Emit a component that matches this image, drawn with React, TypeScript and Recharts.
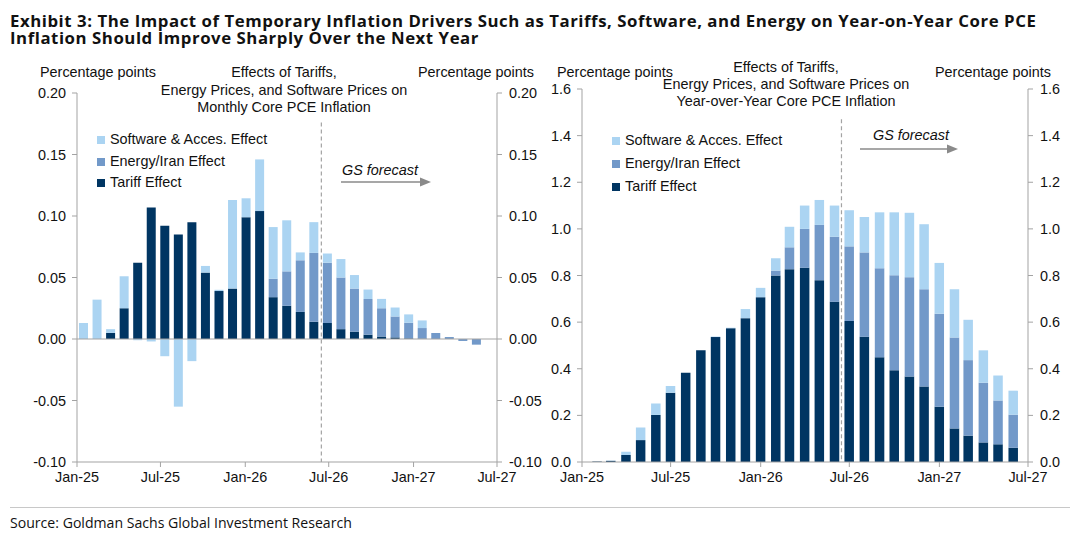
import React from 'react';
import { BarChart, Bar, XAxis, YAxis, ReferenceLine } from 'recharts';

// ---------- data ----------
const MONTHS = [
  'Jan-25', 'Feb-25', 'Mar-25', 'Apr-25', 'May-25', 'Jun-25', 'Jul-25', 'Aug-25', 'Sep-25', 'Oct-25', 'Nov-25', 'Dec-25',
  'Jan-26', 'Feb-26', 'Mar-26', 'Apr-26', 'May-26', 'Jun-26', 'Jul-26', 'Aug-26', 'Sep-26', 'Oct-26', 'Nov-26', 'Dec-26',
  'Jan-27', 'Feb-27', 'Mar-27', 'Apr-27', 'May-27', 'Jun-27', 'Jul-27',
];
const TICK_LABELS = ['Jan-25', 'Jul-25', 'Jan-26', 'Jul-26', 'Jan-27', 'Jul-27'];

// Monthly core PCE effects (left panel), Jan-25 .. Jul-27
const monthlyTariff = [
  0, 0, 0.005, 0.025, 0.062, 0.107, 0.092, 0.085, 0.095, 0.054, 0.039, 0.041,
  0.099, 0.104, 0.034, 0.027, 0.022, 0.014, 0.013, 0.008, 0.006, 0.0035, 0.002, 0.0013,
  0.0005, 0.0003, 0, 0, 0, 0, 0,
];
const monthlyEnergy = [
  0, 0, 0, 0, 0, 0, 0, 0, 0, 0, 0, 0,
  0, 0, 0.015, 0.028, 0.042, 0.056, 0.049, 0.042, 0.035, 0.029, 0.023, 0.017,
  0.0127, 0.0086, 0.0049, 0.0016, -0.0016, -0.0046, 0,
];
const monthlySoftware = [
  0.013, 0.032, 0.003, 0.026, -0.001, -0.002, -0.014, -0.055, -0.018, 0.0054, 0.001, 0.072,
  0.0154, 0.042, 0.042, 0.0415, 0.0064, 0.025, 0.0075, 0.015, 0.011, 0.0077, 0.0076, 0.0073,
  0.0068, 0.0062, 0, 0, 0, 0, 0,
];

// Year-over-year core PCE effects (right panel), Jan-25 .. Jun-27
const yoyTariff = [
  0, 0.002, 0.005, 0.03, 0.094, 0.202, 0.297, 0.383, 0.479, 0.536, 0.574, 0.617,
  0.707, 0.8, 0.827, 0.833, 0.78, 0.687, 0.605, 0.537, 0.449, 0.394, 0.367, 0.324,
  0.237, 0.144, 0.113, 0.084, 0.076, 0.061,
];
const yoyEnergy = [
  0, 0, 0, 0, 0, 0, 0, 0, 0, 0, 0, 0,
  0, 0.021, 0.094, 0.167, 0.237, 0.279, 0.32, 0.362, 0.382, 0.407, 0.426, 0.417,
  0.399, 0.39, 0.324, 0.256, 0.188, 0.142,
];
const yoySoftware = [
  0, 0, 0.001, 0.014, 0.054, 0.049, 0.029, 0, 0, 0.002, 0.002, 0.039,
  0.04, 0.053, 0.088, 0.1, 0.107, 0.134, 0.155, 0.152, 0.24, 0.27, 0.276, 0.279,
  0.218, 0.207, 0.173, 0.139, 0.107, 0.103,
];

const LEFT_TICKS = [-0.1, -0.05, 0, 0.05, 0.1, 0.15, 0.2];
const RIGHT_TICKS = [0, 0.2, 0.4, 0.6, 0.8, 1.0, 1.2, 1.4, 1.6];
const FORECAST_START = 'Jun-26';
const FORECAST_OFFSET_DAYS = 14;

// ---------- helpers ----------
const MON = ['Jan', 'Feb', 'Mar', 'Apr', 'May', 'Jun', 'Jul', 'Aug', 'Sep', 'Oct', 'Nov', 'Dec'];
const dayOf = (label: string) => {
  const [m, y] = label.split('-');
  const t = Date.UTC(2000 + Number(y), MON.indexOf(m), 1) - Date.UTC(2025, 0, 1);
  return Math.round(t / 86400000);
};
const tickDays = TICK_LABELS.map(dayOf);
const dateDomain: [number, number] = [0, dayOf('Jul-27')];
const forecastDay = dayOf(FORECAST_START) + FORECAST_OFFSET_DAYS;
const labelForDay = (v: number) => TICK_LABELS[tickDays.indexOf(v)] ?? '';
// left panel: one equal-width slot per month across the date span
const slotWidth = dateDomain[1] / MONTHS.length;

const leftRows = MONTHS.map((m, i) => ({
  month: m,
  slot: (i + 0.5) * slotWidth,
  tariff: monthlyTariff[i],
  energy: monthlyEnergy[i],
  software: monthlySoftware[i],
}));
const rightRows = MONTHS.slice(0, yoyTariff.length).map((m, i) => ({
  month: m,
  day: dayOf(m),
  tariff: yoyTariff[i],
  energy: yoyEnergy[i],
  software: yoySoftware[i],
}));

// ---------- styles ----------
const C_TARIFF = '#003562';
const C_ENERGY = '#7299c9';
const C_SOFT = '#abd4f2';
const AXIS = '#a3a3a3';
const FONT = '"Liberation Sans", Arial, sans-serif';
const TFONT = '"Open Sans", "Noto Sans", sans-serif';
const FS = 14.4;
const tickStyle = { fill: '#111', fontSize: FS, fontFamily: FONT };

const abs = (left: number, top: number, extra: React.CSSProperties = {}): React.CSSProperties => ({
  position: 'absolute', left, top, whiteSpace: 'nowrap', fontFamily: FONT, fontSize: FS,
  color: '#111', lineHeight: '17px', ...extra,
});

const titleStyle = (top: number): React.CSSProperties => ({
  position: 'absolute', left: 10, top, fontFamily: TFONT, fontWeight: 700, fontSize: 16.8,
  letterSpacing: 0.55, lineHeight: '17px', color: '#111', whiteSpace: 'nowrap',
});

const LegendBox = ({ left, top, gap }: { left: number; top: number; gap: number }) => {
  const items = [
    { c: C_SOFT, t: 'Software & Acces. Effect' },
    { c: C_ENERGY, t: 'Energy/Iran Effect' },
    { c: C_TARIFF, t: 'Tariff Effect' },
  ];
  return (
    <>
      {items.map((it, i) => (
        <div key={it.t} style={abs(left, top + i * gap)}>
          <span style={{ display: 'inline-block', width: 8, height: 8, background: it.c, marginRight: 5, verticalAlign: 0 }} />
          {it.t}
        </div>
      ))}
    </>
  );
};

export default function App() {
  return (
    <div style={{ position: 'absolute', left: 0, top: 0, width: 1080, height: 535, background: '#fff', overflow: 'hidden' }}>
      {/* Title */}
      <div style={titleStyle(12)}>
        Exhibit 3: The Impact of Temporary Inflation Drivers Such as Tariffs, Software, and Energy on Year-on-Year Core PCE
      </div>
      <div style={titleStyle(29)}>Inflation Should Improve Sharply Over the Next Year</div>

      {/* Left chart */}
      <div style={{ position: 'absolute', left: 0, top: 0 }}>
        <BarChart width={560} height={535} data={leftRows} margin={{ top: 93, right: 0, bottom: 43, left: 0 }} stackOffset="sign" barSize={9}>
          <XAxis xAxisId="date" dataKey="slot" type="number" domain={dateDomain} allowDataOverflow ticks={tickDays} tickFormatter={labelForDay}
            height={30} stroke={AXIS} tick={tickStyle} tickSize={5} tickMargin={5} interval={0} />
          <YAxis yAxisId="l" domain={[-0.1, 0.2]} ticks={LEFT_TICKS} allowDataOverflow width={77} stroke={AXIS} tick={tickStyle}
            tickSize={5} tickMargin={6} tickFormatter={(v: number) => v.toFixed(2)} interval={0} />
          <YAxis yAxisId="r" orientation="right" domain={[-0.1, 0.2]} ticks={LEFT_TICKS} allowDataOverflow width={63} stroke={AXIS}
            tick={tickStyle} tickSize={5} tickMargin={7} tickFormatter={(v: number) => v.toFixed(2)} interval={0} />
          <ReferenceLine xAxisId="date" yAxisId="l" y={0} stroke={AXIS} strokeWidth={1} />
          <Bar xAxisId="date" yAxisId="l" dataKey="tariff" stackId="s" fill={C_TARIFF} isAnimationActive={false} />
          <Bar xAxisId="date" yAxisId="l" dataKey="energy" stackId="s" fill={C_ENERGY} isAnimationActive={false} />
          <Bar xAxisId="date" yAxisId="l" dataKey="software" stackId="s" fill={C_SOFT} isAnimationActive={false} />
          <ReferenceLine xAxisId="date" yAxisId="l" segment={[{ x: forecastDay, y: 0.176 }, { x: forecastDay, y: -0.1 }]}
            stroke={AXIS} strokeDasharray="4 3" strokeWidth={1.2} />
        </BarChart>
      </div>

      {/* Right chart */}
      <div style={{ position: 'absolute', left: 540, top: 0 }}>
        <BarChart width={540} height={535} data={rightRows} margin={{ top: 89, right: 0, bottom: 43, left: 0 }} stackOffset="sign" barSize={9.5}>
          <XAxis xAxisId="date" dataKey="day" type="number" domain={dateDomain} allowDataOverflow ticks={tickDays} tickFormatter={labelForDay}
            height={30} stroke={AXIS} tick={tickStyle} tickSize={5} tickMargin={5} interval={0} />
          <YAxis yAxisId="l" domain={[0, 1.6]} ticks={RIGHT_TICKS} allowDataOverflow width={42} stroke={AXIS} tick={tickStyle}
            tickSize={5} tickMargin={6} tickFormatter={(v: number) => v.toFixed(1)} interval={0} />
          <YAxis yAxisId="r" orientation="right" domain={[0, 1.6]} ticks={RIGHT_TICKS} allowDataOverflow width={52} stroke={AXIS}
            tick={tickStyle} tickSize={5} tickMargin={7} tickFormatter={(v: number) => v.toFixed(1)} interval={0} />
          <Bar xAxisId="date" yAxisId="l" dataKey="tariff" stackId="s" fill={C_TARIFF} isAnimationActive={false} />
          <Bar xAxisId="date" yAxisId="l" dataKey="energy" stackId="s" fill={C_ENERGY} isAnimationActive={false} />
          <Bar xAxisId="date" yAxisId="l" dataKey="software" stackId="s" fill={C_SOFT} isAnimationActive={false} />
          <ReferenceLine xAxisId="date" yAxisId="l" segment={[{ x: forecastDay, y: 1.47 }, { x: forecastDay, y: 0 }]}
            stroke={AXIS} strokeDasharray="4 3" strokeWidth={1.2} />
        </BarChart>
      </div>

      {/* Panel texts */}
      <div style={abs(40, 64)}>Percentage points</div>
      <div style={abs(418, 64)}>Percentage points</div>
      <div style={abs(284, 64, { transform: 'translateX(-50%)', textAlign: 'center', lineHeight: '17.5px' })}>
        Effects of Tariffs,<br />Energy Prices, and Software Prices on<br />Monthly Core PCE Inflation
      </div>
      <div style={abs(557, 64)}>Percentage points</div>
      <div style={abs(935, 64)}>Percentage points</div>
      <div style={abs(786, 59, { transform: 'translateX(-50%)', textAlign: 'center', lineHeight: '17px' })}>
        Effects of Tariffs,<br />Energy Prices, and Software Prices on<br />Year-over-Year Core PCE Inflation
      </div>

      <LegendBox left={97} top={131} gap={21.5} />
      <LegendBox left={612} top={132} gap={23} />

      <div style={abs(342, 162, { fontStyle: 'italic' })}>GS forecast</div>
      <div style={abs(873, 127, { fontStyle: 'italic' })}>GS forecast</div>

      <svg width={1080} height={535} style={{ position: 'absolute', left: 0, top: 0, pointerEvents: 'none' }}>
        <line x1={341} y1={182} x2={421} y2={182} stroke="#8a8a8a" strokeWidth={1.5} />
        <polygon points="431,182 420,177.5 420,186.5" fill="#8a8a8a" />
        <line x1={860} y1={149} x2={947} y2={149} stroke="#8a8a8a" strokeWidth={1.5} />
        <polygon points="958,149 947,144.5 947,153.5" fill="#8a8a8a" />
        <line x1={10} y1={507.5} x2={1070} y2={507.5} stroke="#c8c8c8" strokeWidth={1} />
      </svg>

      <div style={{ position: 'absolute', left: 10, top: 514, fontFamily: TFONT, fontSize: 14.1, lineHeight: '17px', color: '#111', whiteSpace: 'nowrap' }}>
        Source: Goldman Sachs Global Investment Research
      </div>
    </div>
  );
}
